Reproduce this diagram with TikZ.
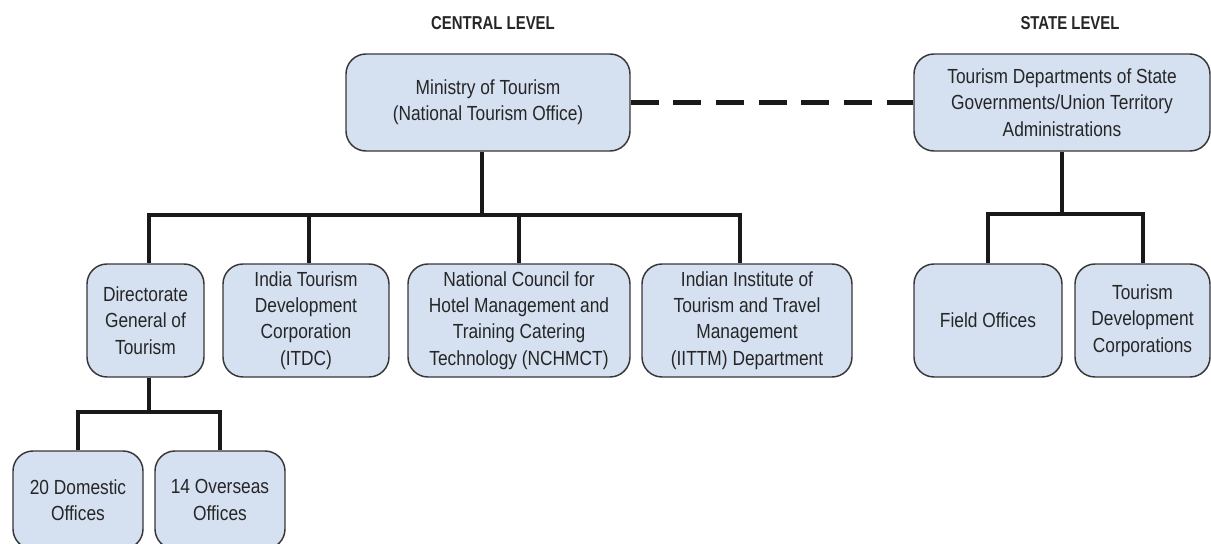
\documentclass[tikz,border=0pt]{standalone}
\usepackage{fontspec}
\setmainfont{Liberation Sans}[FakeStretch=0.85]
\newfontfamily\titulofuente{Liberation Sans}[FakeStretch=0.8]
\usetikzlibrary{positioning}
\definecolor{cajaazul}{RGB}{213,224,241}
\definecolor{bordegris}{RGB}{55,55,55}

\begin{document}
\begin{tikzpicture}[x=0.75pt,y=-0.75pt,font=\fontsize{15.3}{19.8}\selectfont,
 caja/.style={draw=bordegris,line width=1.1pt,rounded corners=15pt,fill=cajaazul,text=black!85,align=center,inner sep=2pt},
 nivel1/.style={caja,minimum height=72.75pt},
 nivel2/.style={caja,minimum height=84.75pt},
 nivel3/.style={caja,minimum height=73.5pt,minimum width=97.5pt},
 conector/.style={line width=3pt,draw=black!90},
 titulo/.style={font=\titulofuente\fontsize{14}{16}\selectfont\bfseries,text=black!85}]
\useasboundingbox (0,0) rectangle (1211,543);
% titulos
\node[titulo] (central) at (493,23) {CENTRAL LEVEL};
\node[titulo] (estado) at (1070,23) {STATE LEVEL};
% nivel central
\node[nivel1,minimum width=213pt] (ministerio) at (488,102.5) {Ministry of Tourism\\(National Tourism Office)};
\node[nivel2,minimum width=87.75pt] (direccion) at (145.5,320.5) {Directorate\\General of\\Tourism};
\node[nivel2,minimum width=124.5pt] (itdc) at (306,320.5) {India Tourism\\Development\\Corporation\\(ITDC)};
\node[nivel2,minimum width=166.5pt] (nchmct) at (519,320.5) {National Council for\\Hotel Management and\\Training Catering\\Technology (NCHMCT)};
\node[nivel2,minimum width=157.5pt] (iittm) at (747,320.5) {Indian Institute of\\Tourism and Travel\\Management\\(IITTM) Department};
\node[nivel3] (domesticas) at (78,500) {20 Domestic\\Offices};
\node[nivel3] (extranjero) at (220,500) {14 Overseas\\Offices};
% nivel estatal
\node[nivel1,minimum width=222pt] (estatal) at (1062,102.5) {Tourism Departments of State\\Governments/Union Territory\\Administrations};
\node[nivel2,minimum width=111pt] (campo) at (988,320.5) {Field Offices};
\node[nivel2,minimum width=101.25pt] (corporaciones) at (1142.5,320.5) {Tourism\\Development\\Corporations};
% conectores
\coordinate (bus) at (0,215);
\coordinate (busestatal) at (0,214);
\coordinate (busdir) at (0,412);
\draw[conector,line width=3.5pt,dash pattern=on 21pt off 11pt] (ministerio.east) -- (estatal.west);
\draw[conector] ([xshift=-4.5pt]ministerio.south) -- ([xshift=-4.5pt]ministerio.south |- bus);
\draw[conector] ([xshift=2.5pt]direccion.north) |- ([xshift=-5pt]iittm.north |- bus) -- ([xshift=-5pt]iittm.north);
\draw[conector] ([xshift=2pt]itdc.north) -- ([xshift=2pt]itdc.north |- bus);
\draw[conector] (nchmct.north) -- (nchmct.north |- bus);
\draw[conector] (estatal.south) -- (estatal.south |- busestatal);
\draw[conector] (campo.north) |- (corporaciones.north |- busestatal) -- (corporaciones.north);
\draw[conector] ([xshift=2.5pt]direccion.south) -- ([xshift=2.5pt]direccion.south |- busdir);
\draw[conector] (domesticas.north) |- (extranjero.north |- busdir) -- (extranjero.north);
\end{tikzpicture}
\end{document}
